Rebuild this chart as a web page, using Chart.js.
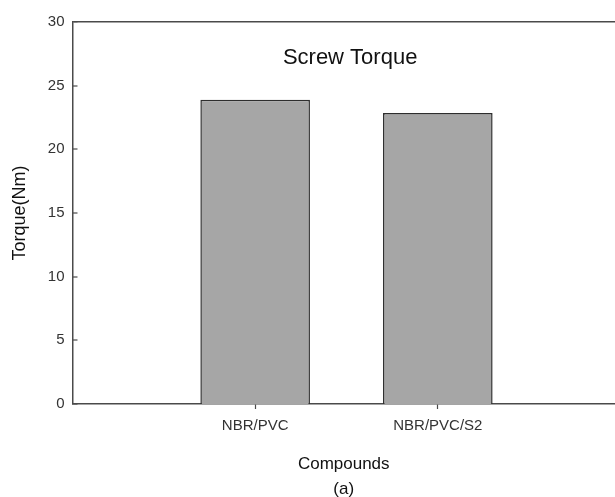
<!DOCTYPE html>
<html>
<head>
<meta charset="utf-8">
<script src="https://cdn.jsdelivr.net/npm/chart.js@4/dist/chart.umd.min.js"></script>
<style>
  html, body { margin: 0; padding: 0; background: #fff; overflow: hidden; }
  #wrap { position: relative; width: 615px; height: 497px; }
</style>
</head>
<body>
<div id="wrap"><canvas id="torqueChart"></canvas></div>
<script>
// chart data
const compounds = ['NBR/PVC', 'NBR/PVC/S2'];
const torqueNm = [23.9, 22.85];
const yTicks = [0, 5, 10, 15, 20, 25, 30];

const FONT = "'Liberation Sans', Arial, sans-serif";
const AXIS = '#4a4a4a';

// title sits inside the plot frame
const innerTitle = {
  id: 'innerTitle',
  afterDraw(chart) {
    const { ctx, chartArea, scales } = chart;
    ctx.save();
    ctx.font = '22px ' + FONT;
    ctx.fillStyle = '#111';
    ctx.textAlign = 'center';
    ctx.textBaseline = 'middle';
    ctx.fillText('Screw Torque', scales.x.getPixelForValue(1.52), chartArea.top + 36);
    ctx.restore();
  }
};

new Chart(document.getElementById('torqueChart'), {
  type: 'bar',
  data: {
    datasets: [{
      label: 'Torque',
      data: compounds.map((c, i) => ({ x: i + 1, y: torqueNm[i] })),
      backgroundColor: '#a6a6a6',
      borderColor: '#2e2e2e',
      borderWidth: 1.5,
      barPercentage: 0.6,
      categoryPercentage: 1
    }]
  },
  options: {
    responsive: true,
    maintainAspectRatio: false,
    animation: false,
    layout: { padding: { top: 20, right: 0, bottom: 0, left: 0 } },
    plugins: { legend: { display: false }, tooltip: { enabled: false } },
    scales: {
      x: {
        type: 'linear',
        min: 0,
        max: 2.97,
        offset: false,
        afterBuildTicks: (scale) => { scale.ticks = compounds.map((c, i) => ({ value: i + 1 })); },
        ticks: {
          callback: (v) => compounds[v - 1],
          font: { family: FONT, size: 15 },
          color: '#333',
          padding: 8,
          maxRotation: 0,
          autoSkip: false
        },
        grid: { offset: false, drawOnChartArea: false, tickLength: 5, tickColor: AXIS, tickWidth: 1.2 },
        border: { color: AXIS, width: 1.5 },
        title: {
          display: true,
          text: ['Compounds', '', '(a)'],
          font: { family: FONT, size: 17, lineHeight: '12.5px' },
          color: '#111',
          padding: { top: 14.75, bottom: 1.75 }
        }
      },
      y: {
        min: 0,
        max: 30,
        afterBuildTicks: (scale) => { scale.ticks = yTicks.map(v => ({ value: v })); },
        ticks: {
          font: { family: FONT, size: 15 },
          color: '#333',
          padding: 13
        },
        grid: {
          tickLength: -5,
          tickColor: AXIS,
          tickWidth: 1.2,
          color: (c) => (c.tick && c.tick.value === 30 ? AXIS : 'rgba(0,0,0,0)'),
          lineWidth: (c) => (c.tick && c.tick.value === 30 ? 1.5 : 0)
        },
        border: { color: AXIS, width: 1.5 },
        title: {
          display: true,
          text: 'Torque(Nm)',
          font: { family: FONT, size: 18 },
          color: '#111',
          padding: { top: 9.2, bottom: 4 }
        }
      }
    }
  },
  plugins: [innerTitle]
});
</script>
</body>
</html>
